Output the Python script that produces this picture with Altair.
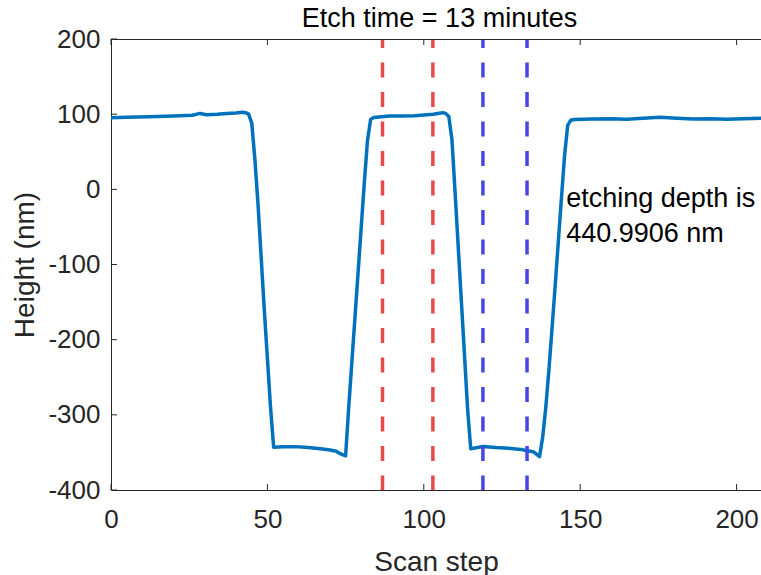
import altair as alt
import pandas as pd

# ---- data ----
scan_step = [0, 5, 12, 20, 26, 28.5, 30.5, 34, 37, 40, 42, 43, 44, 45, 46, 47, 48, 49, 50, 51, 52,
             55, 59, 63, 67, 70, 72, 73, 74, 75, 76, 77, 78, 79, 80, 81, 82, 83, 84,
             89, 93, 97, 100, 103, 106, 107, 108, 109, 110, 111, 112, 113, 114, 115,
             119, 123, 127, 131, 133, 135, 137, 138, 139, 140, 141, 142, 143, 144, 145, 146, 147, 148,
             154, 160, 165, 170, 175.5, 181, 186, 192, 197, 202, 208]
height = [95.3, 96.0, 96.7, 97.5, 98.5, 101.0, 99.3, 100.0, 101.0, 101.5, 102.5, 102.0, 100.0, 88, 40, -20, -90, -160, -225, -290, -343,
          -342.5, -342.3, -343.5, -345.0, -346.8, -348.5, -351.0, -353.0, -354.5, -290, -230, -170, -110, -50, 10, 65, 93, 95.5,
          97.6, 97.5, 98.0, 99.0, 99.8, 102.0, 101.0, 97.0, 66, -4, -76, -148, -220, -292, -345,
          -342.0, -343.5, -344.5, -346.0, -347.7, -349.0, -355.6, -330, -290, -240, -185, -128, -70, -12, 45, 85, 92, 93,
          93.6, 94.0, 93.2, 94.5, 95.8, 94.5, 93.6, 94.0, 93.2, 94.0, 94.5]

marker_pos = [86.8, 102.9, 118.9, 133.0]
marker_group = ["red", "red", "blue", "blue"]

x_ticks = [0, 50, 100, 150, 200]
y_ticks = [-400, -300, -200, -100, 0, 100, 200]

annot_step = [145.5]
annot_height = [-23.5]
annot_text = ["etching depth is\n440.9906 nm"]

title_text = ["Etch time = 13 minutes"]

# ---- tables ----
profile = pd.DataFrame({"step": scan_step, "height": height})
markers = pd.DataFrame({"pos": marker_pos, "grp": marker_group})
xt = pd.DataFrame({"t": x_ticks})
yt = pd.DataFrame({"t": y_ticks})
annot = pd.DataFrame({"step": annot_step, "height": annot_height, "txt": annot_text})
ttl = pd.DataFrame({"txt": title_text})

W, H = 650, 451
FONT = "Liberation Sans"
AX = "#262626"

xscale = alt.Scale(domain=[0, 207.8], nice=False, zero=False)
yscale = alt.Scale(domain=[-400, 200], nice=False, zero=False)

x_axis = alt.Axis(values=x_ticks, title="Scan step", ticks=False, labelPadding=16, grid=False,
                  labelFont=FONT, labelFontSize=26, labelColor=AX, labelFlush=False,
                  labelOverlap=False, labelExpr="'' + datum.value",
                  domainColor=AX, domainWidth=1,
                  titleFontSize=28, titleY=80, titleBaseline="alphabetic", titleColor=AX,
                  titleFontWeight="normal", titleFont=FONT)
y_axis = alt.Axis(values=y_ticks, title="Height (nm)", ticks=False, labelPadding=11, grid=False,
                  labelFont=FONT, labelFontSize=26, labelColor=AX, labelFlush=False,
                  labelOverlap=False, labelExpr="'' + datum.value",
                  domainColor=AX, domainWidth=1,
                  titleFontSize=28, titleX=-78, titleY=H / 2, titleBaseline="alphabetic",
                  titleAngle=-90, titleColor=AX, titleFontWeight="normal", titleFont=FONT)

line = alt.Chart(profile).mark_line(color="#0072BD", strokeWidth=3.5, clip=True,
                                     strokeJoin="round").encode(
    x=alt.X("step:Q", scale=xscale, axis=x_axis),
    y=alt.Y("height:Q", scale=yscale, axis=y_axis),
)

dashes = alt.Chart(markers).mark_rule(strokeWidth=3.5, strokeDash=[15, 14.5],
                                      strokeDashOffset=6).encode(
    x=alt.X("pos:Q", scale=xscale),
    y=alt.datum(200),
    y2=alt.datum(-400),
    color=alt.Color("grp:N", scale=alt.Scale(domain=["red", "blue"],
                                             range=["#E8494B", "#4747E0"]), legend=None),
)

bottom_ticks = alt.Chart(xt).mark_rule(color=AX, strokeWidth=1).encode(
    x=alt.X("t:Q", scale=xscale), y=alt.value(H), y2=alt.value(H - 6))
top_ticks = alt.Chart(xt).mark_rule(color=AX, strokeWidth=1).encode(
    x=alt.X("t:Q", scale=xscale), y=alt.value(0), y2=alt.value(6))
left_ticks = alt.Chart(yt).mark_rule(color=AX, strokeWidth=1).encode(
    y=alt.Y("t:Q", scale=yscale), x=alt.value(0), x2=alt.value(6))
top_border = alt.Chart(xt).mark_rule(color=AX, strokeWidth=1).encode(
    x=alt.value(0), x2=alt.value(W), y=alt.value(0.5))

text = alt.Chart(annot).mark_text(align="left", baseline="alphabetic", fontSize=27,
                                  font=FONT, color="#000000", lineBreak="\n",
                                  lineHeight=34.7).encode(
    x=alt.X("step:Q", scale=xscale),
    y=alt.Y("height:Q", scale=yscale),
    text="txt:N",
)

title = alt.Chart(ttl).mark_text(align="center", baseline="alphabetic", fontSize=27,
                                 font=FONT, color="#000000").encode(
    x=alt.value(W / 2 + 3.5), y=alt.value(-12), text="txt:N")

chart = alt.layer(line, dashes, bottom_ticks, top_ticks, left_ticks, top_border, text, title).properties(
    width=W, height=H,
    autosize=alt.AutoSizeParams(type="none"),
    padding={"left": 111, "top": 39, "right": 0, "bottom": 85},
    background="white",
).configure_view(stroke=None)

chart.save("out.html", embed_options={"renderer": "svg", "actions": False})
